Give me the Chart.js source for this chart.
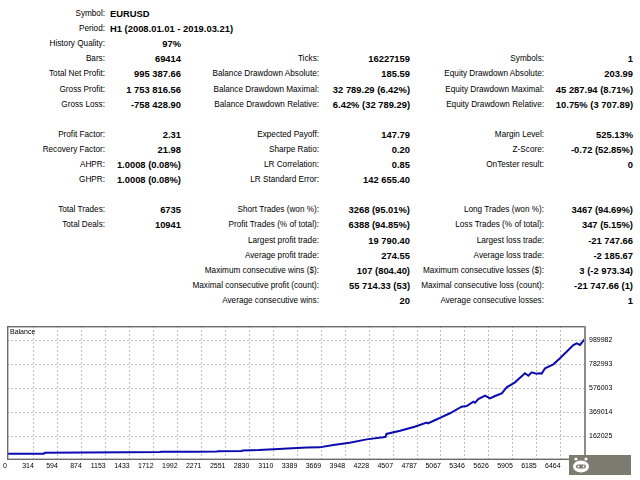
<!DOCTYPE html>
<html>
<head>
<meta charset="utf-8">
<script src="https://cdn.jsdelivr.net/npm/chart.js@4.4.0/dist/chart.umd.min.js"></script>
<style>
    html, body { margin: 0; padding: 0; background: #fff; }
    body { width: 640px; height: 480px; position: relative; overflow: hidden; font-family: "Liberation Sans", Arial, sans-serif; color: #000; }
    .cell { position: absolute; white-space: nowrap; height: 12px; line-height: 12px; }
    .lbl { font-size: 8.2px; text-align: right; }
    .val { font-size: 9.4px; font-weight: bold; text-align: right; }
    .val.left { text-align: left; }
    #chartBox { position: absolute; left: 0; top: 318px; width: 640px; height: 162px; }
    #caption { position: absolute; left: 10px; top: 327px; font-size: 7px; line-height: 9px; }
    #badge { position: absolute; left: 569px; top: 455px; width: 62px; height: 20px; background: #7d7b6f; }
</style>
</head>
<body>
<div id="report"></div>
<div id="chartBox"><canvas id="balanceChart" width="640" height="162"></canvas></div>
<div id="caption">Balance</div>
<div id="badge">
    <svg width="24" height="20" viewBox="0 0 24 20">
        <circle cx="7" cy="4" r="1.6" fill="#fff"/>
        <circle cx="17" cy="4" r="1.6" fill="#fff"/>
        <ellipse cx="12" cy="11.5" rx="8" ry="6" fill="#fff"/>
        <rect x="7" y="9.5" width="10" height="4" rx="2" fill="#7d7b6f"/>
        <circle cx="9.5" cy="11.5" r="1" fill="#fff"/>
        <circle cx="14.5" cy="11.5" r="1" fill="#fff"/>
    </svg>
</div>
<script>
// report table: [row, label1, value1, label2, value2, label3, value3]
const reportRows = [
    [0, "Symbol:", "EURUSD"],
    [1, "Period:", "H1 (2008.01.01 - 2019.03.21)"],
    [2, "History Quality:", "97%"],
    [3, "Bars:", "69414", "Ticks:", "16227159", "Symbols:", "1"],
    [4, "Total Net Profit:", "995 387.66", "Balance Drawdown Absolute:", "185.59", "Equity Drawdown Absolute:", "203.99"],
    [5, "Gross Profit:", "1 753 816.56", "Balance Drawdown Maximal:", "32 789.29 (6.42%)", "Equity Drawdown Maximal:", "45 287.94 (8.71%)"],
    [6, "Gross Loss:", "-758 428.90", "Balance Drawdown Relative:", "6.42% (32 789.29)", "Equity Drawdown Relative:", "10.75% (3 707.89)"],
    [8, "Profit Factor:", "2.31", "Expected Payoff:", "147.79", "Margin Level:", "525.13%"],
    [9, "Recovery Factor:", "21.98", "Sharpe Ratio:", "0.20", "Z-Score:", "-0.72 (52.85%)"],
    [10, "AHPR:", "1.0008 (0.08%)", "LR Correlation:", "0.85", "OnTester result:", "0"],
    [11, "GHPR:", "1.0008 (0.08%)", "LR Standard Error:", "142 655.40"],
    [13, "Total Trades:", "6735", "Short Trades (won %):", "3268 (95.01%)", "Long Trades (won %):", "3467 (94.69%)"],
    [14, "Total Deals:", "10941", "Profit Trades (% of total):", "6388 (94.85%)", "Loss Trades (% of total):", "347 (5.15%)"],
    [15, "", "", "Largest profit trade:", "19 790.40", "Largest loss trade:", "-21 747.66"],
    [16, "", "", "Average profit trade:", "274.55", "Average loss trade:", "-2 185.67"],
    [17, "", "", "Maximum consecutive wins ($):", "107 (804.40)", "Maximum consecutive losses ($):", "3 (-2 973.34)"],
    [18, "", "", "Maximal consecutive profit (count):", "55 714.33 (53)", "Maximal consecutive loss (count):", "-21 747.66 (1)"],
    [19, "", "", "Average consecutive wins:", "20", "Average consecutive losses:", "1"]
];

// balance curve
const tradeNo = [0, 430, 440, 900, 1400, 1790, 1800, 2200, 2450, 2460, 2740, 2750, 2940, 3170, 3330,
    3500, 3650, 3810, 4000, 4200, 4390, 4420, 4430, 4590, 4760, 4900, 4915, 5000, 5055, 5172,
    5308, 5367, 5445, 5464, 5503, 5581, 5639, 5698, 5776, 5834, 5931, 5970, 6048, 6087, 6126,
    6180, 6223, 6243, 6282, 6379, 6456, 6534, 6612, 6651, 6690, 6720, 6748];
const balance = [10000, 10000, 18000, 20000, 22000, 24000, 26000, 27000, 28000, 31000, 33000, 37000, 41000, 50000, 56000,
    62000, 64000, 84000, 104000, 133000, 151000, 155000, 180000, 208000, 242000, 277000, 271000, 300000, 318000, 358000,
    415000, 421000, 458000, 449000, 481000, 510000, 487000, 507000, 530000, 582000, 625000, 651000, 703000, 682000, 711000,
    700000, 703000, 700000, 746000, 780000, 832000, 889000, 947000, 961000, 947000, 975000, 1000000];

const xTickValues = [0, 314, 594, 874, 1153, 1433, 1712, 1992, 2271, 2551, 2830, 3110, 3389, 3669, 3948,
    4228, 4507, 4787, 5067, 5346, 5626, 5905, 6185, 6464, 6744];
const yTickValues = [162025, 369014, 576003, 782993, 989982];

// build the report text
const report = document.getElementById("report");
const columns = [[105, 181], [319, 410], [544, 633]];

reportRows.forEach(row => {
    const top = 14 + row[0] * 15.1 - 6;
    for (let c = 0; c < 3; c++) {
        const label = row[1 + c * 2];
        const value = row[2 + c * 2];
        if (!label) continue;
        const l = document.createElement("div");
        l.className = "cell lbl";
        l.style.top = top + "px";
        l.style.right = (640 - columns[c][0]) + "px";
        l.textContent = label;
        report.appendChild(l);

        const v = document.createElement("div");
        v.style.top = top + "px";
        if (row[0] < 2) {
            v.className = "cell val left";
            v.style.left = "110px";
        } else {
            v.className = "cell val";
            v.style.right = (640 - columns[c][1]) + "px";
        }
        v.textContent = value;
        report.appendChild(v);
    }
});

// frame round the plot area
const framePlugin = {
    id: "frame",
    afterDraw(chart) {
        const { ctx, chartArea: a } = chart;
        ctx.save();
        ctx.strokeStyle = "#6a6a6a";
        ctx.lineWidth = 1.4;
        ctx.strokeRect(a.left + 0.7, a.top + 0.7, a.right - a.left - 1.4, a.bottom - a.top - 1.4);
        ctx.strokeStyle = "#8c8c8c";
        ctx.lineWidth = 2;
        ctx.beginPath();
        ctx.moveTo(a.right - 1, a.top);
        ctx.lineTo(a.right - 1, a.bottom);
        ctx.stroke();
        ctx.restore();
    }
};

const tickFont = { family: "Liberation Sans", size: 7 };

new Chart(document.getElementById("balanceChart").getContext("2d"), {
    type: "line",
    data: {
        datasets: [{
            label: "Balance",
            data: tradeNo.map((t, i) => ({ x: t, y: balance[i] })),
            borderColor: "#0b0bb0",
            borderWidth: 2,
            pointRadius: 0,
            tension: 0,
            fill: false
        }]
    },
    options: {
        responsive: false,
        animation: false,
        layout: { padding: { left: 7, top: 8, right: 0, bottom: 0 } },
        plugins: { legend: { display: false }, tooltip: { enabled: false } },
        scales: {
            x: {
                type: "linear",
                min: 0,
                max: 6760,
                afterBuildTicks: s => { s.ticks = xTickValues.map(v => ({ value: v })); },
                afterFit: s => { s.height = 20; },
                grid: { color: "#bdbdbd", lineWidth: 1, drawTicks: false },
                border: { display: false, dash: [2, 2] },
                ticks: {
                    align: "end",
                    padding: 2,
                    autoSkip: false,
                    maxRotation: 0,
                    color: "#000",
                    font: tickFont,
                    callback: v => String(v)
                }
            },
            y: {
                position: "right",
                min: -44964,
                max: 1110726,
                afterBuildTicks: s => { s.ticks = yTickValues.map(v => ({ value: v })); },
                afterFit: s => { s.width = 54; },
                grid: { color: "#bdbdbd", lineWidth: 1, drawTicks: false },
                border: { display: false, dash: [2, 2] },
                ticks: {
                    padding: 3,
                    color: "#000",
                    font: tickFont,
                    callback: v => String(v)
                }
            }
        }
    },
    plugins: [framePlugin]
});
</script>
</body>
</html>
